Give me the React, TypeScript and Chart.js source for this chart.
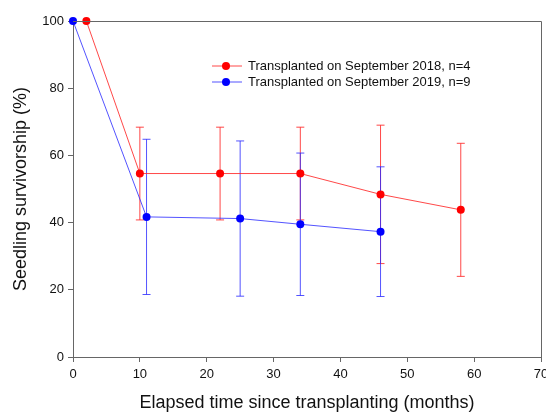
import React, { useEffect, useRef } from "react";
import { Chart, registerables } from "chart.js";

Chart.register(...registerables);

const months2018 = [2, 10, 22, 34, 46, 58];
const surv2018 = [100, 54.6, 54.6, 54.6, 48.4, 43.8];
const err2018 = [0, 13.8, 13.8, 13.8, 20.6, 19.8];

const months2019 = [0, 11, 25, 34, 46];
const surv2019 = [100, 41.7, 41.2, 39.5, 37.3];
const err2019 = [0, 23.1, 23.1, 21.2, 19.3];

const label2018 = "Transplanted on September 2018, n=4";
const label2019 = "Transplanted on September 2019, n=9";

const xTitle = "Elapsed time since transplanting (months)";
const yTitle = "Seedling survivorship (%)";

const FONT = "'Liberation Sans', Arial, sans-serif";
const RED = "#ff0000";
const BLUE = "#0000ff";
const RED_LINE = "rgba(255,40,40,0.85)";
const BLUE_LINE = "rgba(40,40,255,0.8)";
const AXIS = "#666666";

const errors = [err2018, err2019];
const lineColors = [RED_LINE, BLUE_LINE];

const errorBarPlugin = {
  id: "errorBars",
  beforeDatasetsDraw(chart: any) {
    const ctx = chart.ctx;
    const ys = chart.scales.y;
    chart.data.datasets.forEach((ds: any, i: number) => {
      const meta = chart.getDatasetMeta(i);
      ctx.save();
      ctx.strokeStyle = lineColors[i];
      ctx.lineWidth = 1;
      meta.data.forEach((pt: any, j: number) => {
        const e = errors[i][j];
        if (!e) return;
        const v = ds.data[j].y;
        const x = pt.x;
        const yt = ys.getPixelForValue(v + e);
        const yb = ys.getPixelForValue(v - e);
        ctx.beginPath();
        ctx.moveTo(x, yt);
        ctx.lineTo(x, yb);
        ctx.moveTo(x - 4, yt);
        ctx.lineTo(x + 4, yt);
        ctx.moveTo(x - 4, yb);
        ctx.lineTo(x + 4, yb);
        ctx.stroke();
      });
      ctx.restore();
    });
  },
};

const framePlugin = {
  id: "frame",
  afterDraw(chart: any) {
    const { ctx, chartArea } = chart;
    ctx.save();
    ctx.strokeStyle = AXIS;
    ctx.lineWidth = 1;
    ctx.beginPath();
    ctx.moveTo(chartArea.left, chartArea.top + 0.5);
    ctx.lineTo(chartArea.right + 0.5, chartArea.top + 0.5);
    ctx.lineTo(chartArea.right + 0.5, chartArea.bottom);
    ctx.stroke();
    // legend
    const items = [
      { label: label2018, line: RED_LINE, fill: RED, y: 66 },
      { label: label2019, line: BLUE_LINE, fill: BLUE, y: 82 },
    ];
    items.forEach((it) => {
      ctx.strokeStyle = it.line;
      ctx.beginPath();
      ctx.moveTo(212, it.y);
      ctx.lineTo(242, it.y);
      ctx.stroke();
      ctx.fillStyle = it.fill;
      ctx.beginPath();
      ctx.arc(226, it.y, 4, 0, Math.PI * 2);
      ctx.fill();
      ctx.fillStyle = "#111";
      ctx.font = `13px ${FONT}`;
      ctx.textBaseline = "middle";
      ctx.textAlign = "left";
      ctx.fillText(it.label, 248, it.y);
    });
    ctx.restore();
  },
};

export default function App() {
  const ref = useRef<HTMLCanvasElement>(null);
  useEffect(() => {
    if (!ref.current) return;
    const chart = new Chart(ref.current, {
      type: "scatter",
      data: {
        datasets: [
          {
            label: label2018,
            data: months2018.map((x, i) => ({ x, y: surv2018[i] })),
            showLine: true,
            borderColor: RED_LINE,
            borderWidth: 1,
            backgroundColor: RED,
            pointBackgroundColor: RED,
            pointBorderWidth: 0,
            pointRadius: 4,
            clip: false,
          } as any,
          {
            label: label2019,
            data: months2019.map((x, i) => ({ x, y: surv2019[i] })),
            showLine: true,
            borderColor: BLUE_LINE,
            borderWidth: 1,
            backgroundColor: BLUE,
            pointBackgroundColor: BLUE,
            pointBorderWidth: 0,
            pointRadius: 4,
            clip: false,
          } as any,
        ],
      },
      options: {
        animation: false,
        responsive: false,
        maintainAspectRatio: false,
        layout: { padding: { top: 21, right: 5, left: 0, bottom: 0 } },
        plugins: { legend: { display: false }, tooltip: { enabled: false } },
        scales: {
          x: {
            type: "linear",
            min: 0,
            max: 70,
            ticks: { stepSize: 10, color: "#111", font: { family: FONT, size: 13 }, padding: 5 },
            grid: { drawOnChartArea: false, drawTicks: true, tickLength: 5, color: AXIS },
            border: { display: true, color: AXIS },
            title: {
              display: true,
              text: xTitle,
              color: "#111",
              font: { family: FONT, size: 18, lineHeight: 1 },
              padding: { top: 0, bottom: 0 },
            },
            afterFit: (s: any) => {
              s.height = 55;
              s.paddingLeft = 0;
              s.paddingRight = 0;
            },
          },
          y: {
            type: "linear",
            min: 0,
            max: 100,
            ticks: { stepSize: 20, color: "#111", font: { family: FONT, size: 13 }, padding: 4 },
            grid: { drawOnChartArea: false, drawTicks: true, tickLength: 5, color: AXIS },
            border: { display: true, color: AXIS },
            title: {
              display: true,
              text: yTitle,
              color: "#111",
              font: { family: FONT, size: 18, lineHeight: 1 },
              padding: { top: 12, bottom: 0 },
            },
            afterFit: (s: any) => {
              s.width = 73;
              s.paddingTop = 0;
              s.paddingBottom = 0;
            },
          },
        },
      },
      plugins: [errorBarPlugin, framePlugin],
    });
    return () => chart.destroy();
  }, []);
  return (
    <div style={{ position: "fixed", left: 0, top: 0, width: 546, height: 412, background: "#fff" }}>
      <canvas ref={ref} width={546} height={412} style={{ width: 546, height: 412 }} />
    </div>
  );
}
